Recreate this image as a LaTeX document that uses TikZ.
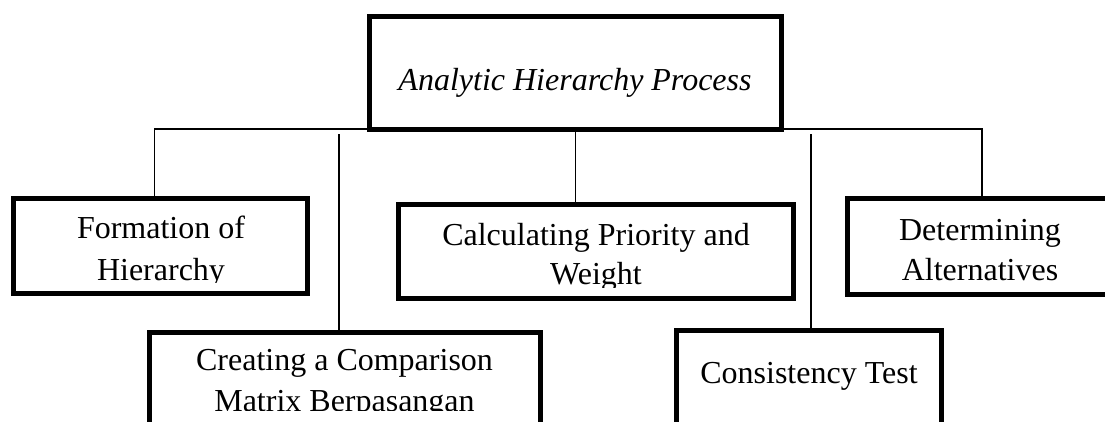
\documentclass[tikz,border=0pt]{standalone}
\usepackage{fontspec}
\setmainfont{Liberation Serif}
\begin{document}
\begin{tikzpicture}[x=1pt,y=-1pt,
  box/.style={draw=black, line width=5pt, inner sep=0pt, outer sep=0pt},
  conn/.style={draw=black, line width=1.7pt},
  txt/.style={inner sep=0pt, outer sep=0pt, anchor=base, font=\fontsize{32}{40}\selectfont}]
\fill[white] (0,0) rectangle (1105,421);
\clip (0,0) rectangle (1105,421);
% boxes
\node[box, minimum width=412pt, minimum height=112.5pt] (ahp) at (575.5,72.75) {};
\node[box, minimum width=294pt, minimum height=95pt] (form) at (160.5,246) {};
\node[box, minimum width=395pt, minimum height=94pt] (calc) at (596,251.5) {};
\node[box, minimum width=265pt, minimum height=96pt] (det) at (979.5,246.5) {};
\node[box, minimum width=391pt, minimum height=120pt] (create) at (345,392) {};
\node[box, minimum width=265pt, minimum height=120pt] (cons) at (809,390) {};
% connectors
\coordinate (c1) at (339,134);
\coordinate (c2) at (811,134);
\draw[conn] ([xshift=-6pt]form.north) |- (ahp.south west);
\draw[conn] (ahp.south east) -| ([xshift=2.5pt]det.north);
\draw[conn] (ahp.south) -- (ahp.south |- calc.north);
\draw[conn] (c1) -- (c1 |- create.north);
\draw[conn] (c2) -- (c2 |- cons.north);
% texts
\node[txt] (ahpT) at (575,90) {\itshape Analytic Hierarchy Process};
\begin{scope}
\clip (16,200) rectangle (305,282);
\node[txt] (formT1) at (161,238) {Formation of};
\node[txt] (formT2) at (161,280) {Hierarchy};
\end{scope}
\begin{scope}
\clip (401,206) rectangle (791,287);
\node[txt] (calcT1) at (596,245) {Calculating Priority and};
\node[txt] (calcT2) at (596,284) {Weight};
\end{scope}
\begin{scope}
\clip (850,201) rectangle (1105,286);
\node[txt] (detT1) at (980,240) {Determining};
\node[txt] (detT2) at (980,280) {Alternatives};
\end{scope}
\begin{scope}
\clip (152,334) rectangle (538,410);
\node[txt] (createT1) at (344.5,370) {Creating a Comparison};
\node[txt] (createT2) at (344.5,411) {Matrix Berpasangan};
\end{scope}
\node[txt] (consT) at (809,383) {Consistency Test};
\end{tikzpicture}
\end{document}
